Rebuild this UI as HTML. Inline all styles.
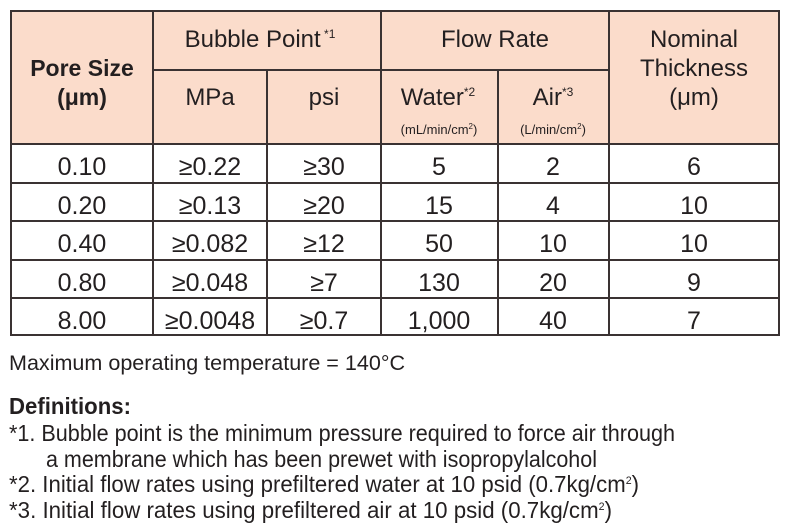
<!DOCTYPE html>
<html><head><meta charset="utf-8"><style>
html,body{margin:0;padding:0;background:#fff;}
svg{display:block;}
text{font-family:"Liberation Sans",sans-serif;fill:#231f20;}
</style></head><body>
<svg width="796" height="531" viewBox="0 0 796 531" xmlns="http://www.w3.org/2000/svg">
<rect x="11" y="11" width="768" height="133" fill="#fbdccb"/>
<g stroke="#3a3232" stroke-width="2" fill="none">
<rect x="11" y="11" width="768" height="324"/>
<line x1="153" y1="11" x2="153" y2="335"/>
<line x1="267" y1="70" x2="267" y2="335"/>
<line x1="381" y1="11" x2="381" y2="335"/>
<line x1="498" y1="70" x2="498" y2="335"/>
<line x1="609" y1="11" x2="609" y2="335"/>
<line x1="153" y1="70" x2="609" y2="70"/>
<line x1="11" y1="144" x2="779" y2="144"/>
<line x1="11" y1="183" x2="779" y2="183"/>
<line x1="11" y1="221" x2="779" y2="221"/>
<line x1="11" y1="260" x2="779" y2="260"/>
<line x1="11" y1="298" x2="779" y2="298"/>
</g>
<g font-size="24" text-anchor="middle">
<text x="82" y="76" font-weight="bold" font-size="23">Pore Size</text>
<text x="82" y="105" font-weight="bold" font-size="23">(μm)</text>
<text x="260" y="47">Bubble Point<tspan font-size="12" dy="-9"> *1</tspan></text>
<text x="210" y="105">MPa</text>
<text x="324" y="105">psi</text>
<text x="495" y="47">Flow Rate</text>
<text x="438" y="105">Water<tspan font-size="12" dy="-9">*2</tspan></text>
<text x="553" y="105">Air<tspan font-size="12" dy="-9">*3</tspan></text>
<text x="439" y="134" font-size="13">(mL/min/cm<tspan font-size="8" dy="-5">2</tspan><tspan dy="5">)</tspan></text>
<text x="553" y="134" font-size="13">(L/min/cm<tspan font-size="8" dy="-5">2</tspan><tspan dy="5">)</tspan></text>
<text x="694" y="47">Nominal</text>
<text x="694" y="76">Thickness</text>
<text x="694" y="105">(μm)</text>
</g>
<g font-size="25" text-anchor="middle">
<text x="82" y="175">0.10</text><text x="210" y="175">≥0.22</text><text x="324" y="175">≥30</text><text x="439" y="175">5</text><text x="553" y="175">2</text><text x="694" y="175">6</text>
<text x="82" y="214">0.20</text><text x="210" y="214">≥0.13</text><text x="324" y="214">≥20</text><text x="439" y="214">15</text><text x="553" y="214">4</text><text x="694" y="214">10</text>
<text x="82" y="252">0.40</text><text x="210" y="252">≥0.082</text><text x="324" y="252">≥12</text><text x="439" y="252">50</text><text x="553" y="252">10</text><text x="694" y="252">10</text>
<text x="82" y="291">0.80</text><text x="210" y="291">≥0.048</text><text x="324" y="291">≥7</text><text x="439" y="291">130</text><text x="553" y="291">20</text><text x="694" y="291">9</text>
<text x="82" y="329">8.00</text><text x="210" y="329">≥0.0048</text><text x="324" y="329">≥0.7</text><text x="439" y="329">1,000</text><text x="553" y="329">40</text><text x="694" y="329">7</text>
</g>
<g font-size="21">
<text x="9" y="370" textLength="396" lengthAdjust="spacingAndGlyphs">Maximum operating temperature = 140°C</text>
</g>
<g font-size="23">
<text x="9" y="414" font-weight="bold" textLength="122" lengthAdjust="spacingAndGlyphs">Definitions:</text>
<text x="9" y="441" textLength="666" lengthAdjust="spacingAndGlyphs">*1. Bubble point is the minimum pressure required to force air through</text>
<text x="46" y="467" textLength="551" lengthAdjust="spacingAndGlyphs">a membrane which has been prewet with isopropylalcohol</text>
<text x="9" y="492" textLength="630" lengthAdjust="spacingAndGlyphs">*2. Initial flow rates using prefiltered water at 10 psid (0.7kg/cm<tspan font-size="11" dy="-8">2</tspan><tspan dy="8">)</tspan></text>
<text x="9" y="518" textLength="603" lengthAdjust="spacingAndGlyphs">*3. Initial flow rates using prefiltered air at 10 psid (0.7kg/cm<tspan font-size="11" dy="-8">2</tspan><tspan dy="8">)</tspan></text>
</g>
</svg>
</body></html>
